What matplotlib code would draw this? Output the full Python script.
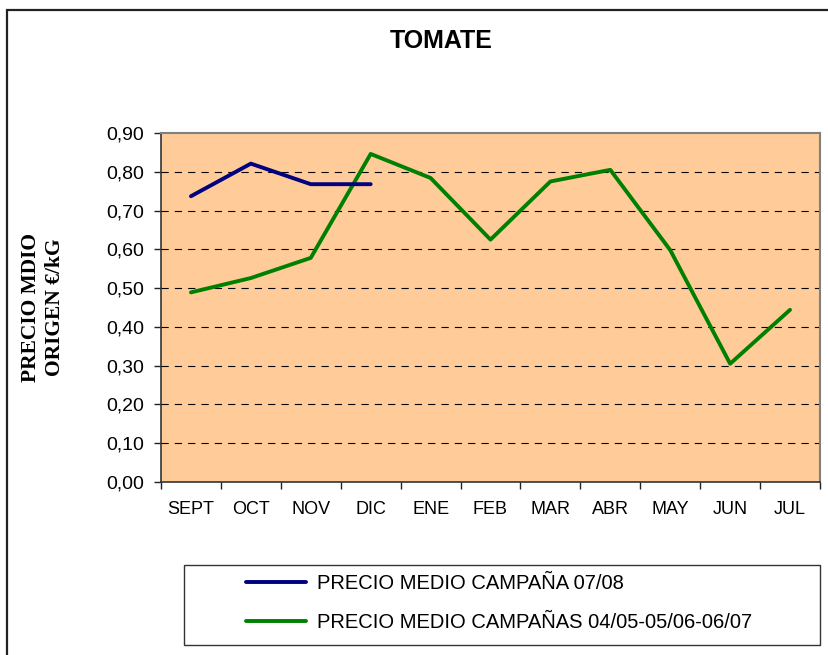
"""
TOMATE - precio medio origen, campaña 07/08 vs media 04/05-06/07.
Output: out.png
"""

import matplotlib
matplotlib.use("Agg")
import matplotlib.pyplot as plt
from matplotlib.patches import Rectangle
from matplotlib.ticker import FixedLocator, FuncFormatter

# ---------------------------------------------------------------------------
# Data
# ---------------------------------------------------------------------------

months = ["SEPT", "OCT", "NOV", "DIC", "ENE", "FEB", "MAR", "ABR", "MAY", "JUN", "JUL"]

precio_0708   = [0.737, 0.821, 0.768, 0.768]
precio_media  = [0.489, 0.526, 0.578, 0.846, 0.784, 0.625, 0.775, 0.805, 0.598, 0.305, 0.444]

label_0708  = "PRECIO MEDIO CAMPAÑA 07/08"
label_media = "PRECIO MEDIO CAMPAÑAS 04/05-05/06-06/07"

# ---------------------------------------------------------------------------
# Style
# ---------------------------------------------------------------------------

PLOT_BG = "#FFCC99"
NAVY    = "#000080"
GREEN   = "#008000"
SANS    = ["Liberation Sans", "DejaVu Sans"]
SERIF   = ["Liberation Serif", "DejaVu Serif"]

plt.rcParams["font.family"] = SANS

fig = plt.figure(figsize=(8.29, 6.55), dpi=100, facecolor="white")
ax = fig.add_axes([161 / 829, 1 - 482 / 655, 659 / 829, 349 / 655])
ax.set_facecolor(PLOT_BG)

x = list(range(len(months)))

l1, = ax.plot(x[:len(precio_0708)], precio_0708, color=NAVY, linewidth=2.8,
              solid_capstyle="round", zorder=4)
l2, = ax.plot(x, precio_media, color=GREEN, linewidth=2.8,
              solid_capstyle="round", zorder=3)

ax.set_xlim(-0.5, len(months) - 0.5)
ax.set_ylim(0, 0.9)

# y axis
yt = [i / 10 for i in range(10)]
ax.set_yticks(yt)
ax.yaxis.set_major_formatter(FuncFormatter(lambda v, _: f"{v:.2f}".replace(".", ",")))
ax.tick_params(axis="y", direction="out", length=5, width=1, pad=7,
               labelsize=14, color="#222222")
for v in yt[1:-1]:
    ax.axhline(v, color="black", linewidth=0.8, linestyle=(0, (6.5, 5.5)), zorder=1)

# x axis: labels at centres, tick marks at boundaries
ax.set_xticks(x)
ax.set_xticklabels(months)
ax.xaxis.set_minor_locator(FixedLocator([i - 0.5 for i in range(len(months) + 1)]))
ax.tick_params(axis="x", which="major", length=0, pad=14, labelsize=13)
ax.tick_params(axis="x", which="minor", direction="out", length=5, width=1,
               color="#222222")

for side in ["left", "bottom"]:
    ax.spines[side].set_color("#333333")
    ax.spines[side].set_linewidth(1.2)
for side in ["top", "right"]:
    ax.spines[side].set_color("#808080")
    ax.spines[side].set_linewidth(1.5)

ax.set_ylabel("PRECIO MDIO\nORIGEN €/kG", family=SERIF, fontweight="bold",
              fontsize=15.5, labelpad=30, linespacing=1.25)

fig.text(441 / 829, 1 - 41 / 655, "TOMATE", ha="center", va="center",
         fontsize=18, fontweight="bold")

# ---------------------------------------------------------------------------
# Legend + frames
# ---------------------------------------------------------------------------

fig.add_artist(Rectangle((184 / 829, 10 / 655), 636 / 829, 80 / 655,
                         transform=fig.transFigure, facecolor="white",
                         edgecolor="#333333", linewidth=1.0, zorder=1))
fig.legend([l1, l2], [label_0708, label_media], loc="center left",
           bbox_to_anchor=(236 / 829, 1 - 603 / 655), frameon=False,
           fontsize=14.5, handlelength=3.0, handletextpad=0.5,
           labelspacing=0.95, borderpad=0)

fig.add_artist(Rectangle((7 / 829, -0.1), 1.2, 1.1 - 10 / 655,
                         transform=fig.transFigure, facecolor="none",
                         edgecolor="#222222", linewidth=1.6))

fig.savefig("out.png", dpi=100, facecolor="white")
